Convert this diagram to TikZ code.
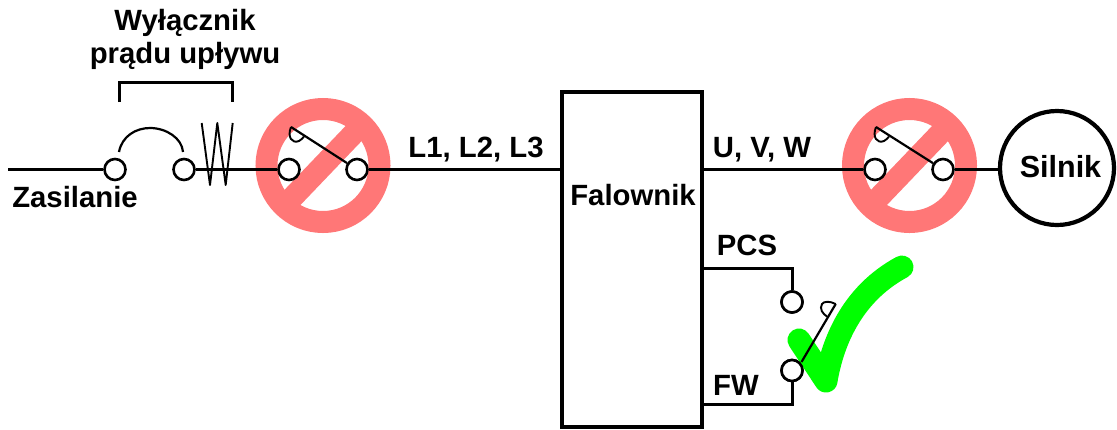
\documentclass[tikz,border=0pt]{standalone}
\usepackage{fontspec}
\setmainfont{Liberation Sans}
\definecolor{nored}{HTML}{FF7777}
\definecolor{okgreen}{HTML}{00FF00}
\tikzset{
  wire/.style={draw=black,line width=3pt},
  thinwire/.style={draw=black,line width=2.2pt},
  term/.style={circle,draw=black,line width=2.6pt,fill=white,minimum size=21pt,inner sep=0pt},
  lbl/.style={font=\fontsize{29.3}{33}\selectfont\bfseries,inner sep=0pt,text=black},
  noring/.style={circle,draw=nored,line width=22pt,minimum size=113pt,inner sep=0pt},
  nobar/.style={draw=nored,line width=22pt},
  box/.style={rectangle,draw=black,line width=3.4pt,fill=white,inner sep=0pt}
}
\begin{document}
\begin{tikzpicture}[x=1pt,y=-1pt]
\useasboundingbox (0,0) rectangle (1117,429);
% no-go rings
\node[noring] (r1) at (323,165.5) {};
\node[noring] (r2) at (909.5,165.5) {};
\draw[nobar] (r1.center) ++(-44,46) -- ++(88,-92);
\draw[nobar] (r2.center) ++(-44,46) -- ++(88,-92);
% coordinates and terminals
\coordinate (src) at (8,169.5);
\node[term] (a1) at (115,169.5) {};
\node[term] (a2) at (184,169.5) {};
\node[term] (b1) at (289,169.5) {};
\node[term] (b2) at (357,169.5) {};
\node[term] (c1) at (875,169.5) {};
\node[term] (c2) at (943,169.5) {};
\node[term] (d1) at (792,302) {};
\node[term] (d2) at (792,370.5) {};
\node[box,minimum width=140pt,minimum height=335pt] (inv) at (632,259.5) {};
\node[circle,draw=black,line width=4.2pt,fill=white,minimum size=114pt,inner sep=0pt] (mot) at (1057,168) {};
% main wires
\draw[wire] (src) -- (a1);
\draw[wire] (a2) -- (b1);
\draw[wire] (b2) -- (b2 -| inv.west);
\draw[wire] (c1 -| inv.east) -- (c1);
\draw[wire] (c2) -- (c2 -| mot.west);
% fuse
\draw[thinwire,line width=1.9pt,line join=round] (201.7,123) -- (210,185) -- (217.3,123) -- (225.7,185) -- (232.7,123);
% breaker arc and bracket
\draw[thinwire] (119,152) .. controls (122,136) and (136,128) .. (150,128) .. controls (166,128) and (182,138) .. (183,152);
\draw[wire,line cap=butt] (119,102) -- (119,82) -- (232,82) -- (232,102);
% levers
\draw[thinwire] (291,127) -- (b2);
\draw[thinwire,line width=1.9pt] (291,127) .. controls (287,137) and (292,144) .. (299,141) .. controls (301,140) and (303,138) .. (304,136.5);
\draw[thinwire] (876,127) -- (c2);
\draw[thinwire,line width=1.9pt] (876,127) .. controls (872,137) and (877,144) .. (884,141) .. controls (886,140) and (888,138) .. (889,136.5);
% check mark
\draw[okgreen,line width=23pt,line cap=round,line join=round] (799,340) -- (826,381) .. controls (832,345) and (850,295) .. (902,267);
% lower switch
\coordinate (pcsw) at (inv.east |- 0,268);
\coordinate (fww) at (inv.east |- 0,404);
\draw[wire] (pcsw) -| (d1);
\draw[wire] (fww) -| (d2);
\node[term] at (d1) {};
\node[term] at (d2) {};
\draw[thinwire] (d2) ++(9.5,-8.5) -- (835.7,304);
\draw[thinwire,line width=1.9pt] (835.7,304) .. controls (830,301) and (824,301) .. (822,304) .. controls (819,309) and (823,314) .. (827,316.5);
% labels
\node[lbl] (t1) at (185,23) {Wyłącznik};
\node[lbl] (t2) at (185,56) {prądu upływu};
\node[lbl] (t3) at (75,197) {Zasilanie};
\node[lbl] (t4) at (476,150) {L1, L2, L3};
\node[lbl] (t5) at (762,150) {U, V, W};
\node[lbl] (t6) at (747,245) {PCS};
\node[lbl] (t7) at (736,385) {FW};
\node[lbl,font=\fontsize{30.5}{33}\selectfont\bfseries] (t8) at (1060.5,167) {Silnik};
\node[lbl] (t9) at (633,195) {Falownik};
\end{tikzpicture}
\end{document}
